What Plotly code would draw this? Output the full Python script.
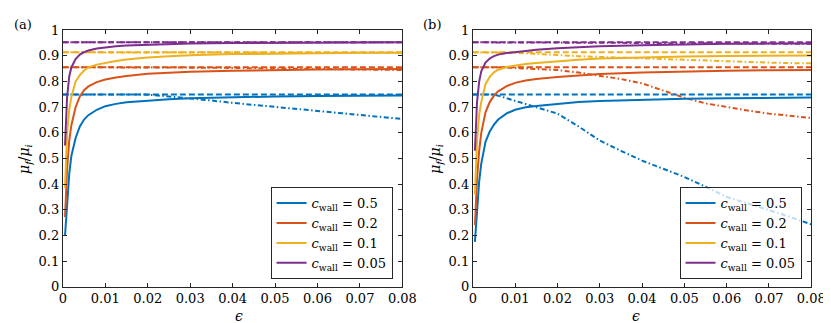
import plotly.graph_objects as go

# ---------------- data ----------------
eps = [0.0005, 0.001, 0.0015, 0.002, 0.003, 0.004, 0.005, 0.006, 0.008, 0.01,
       0.0125, 0.015, 0.02, 0.025, 0.03, 0.04, 0.05, 0.06, 0.07, 0.08]

labels = ["0.5", "0.2", "0.1", "0.05"]
colors = ["#0072BD", "#D95319", "#EDB120", "#7E2F8E"]

# panel (a) solid curves
a_solid_05 = [0.198, 0.34, 0.44, 0.51, 0.58, 0.625, 0.652, 0.669, 0.69, 0.704,
              0.713, 0.719, 0.726, 0.731, 0.735, 0.739, 0.742, 0.744, 0.745, 0.746]
a_solid_02 = [0.272, 0.46, 0.57, 0.63, 0.70, 0.742, 0.766, 0.781, 0.798, 0.808,
              0.816, 0.822, 0.830, 0.835, 0.838, 0.842, 0.845, 0.847, 0.848, 0.849]
a_solid_01 = [0.384, 0.60, 0.69, 0.74, 0.80, 0.825, 0.843, 0.855, 0.866, 0.873,
              0.880, 0.886, 0.894, 0.899, 0.903, 0.907, 0.909, 0.911, 0.912, 0.912]
a_solid_005 = [0.551, 0.74, 0.82, 0.855, 0.888, 0.905, 0.915, 0.921, 0.929, 0.934,
               0.938, 0.941, 0.944, 0.946, 0.948, 0.950, 0.951, 0.952, 0.953, 0.953]

# panel (b) solid curves
b_solid_05 = [0.175, 0.30, 0.41, 0.48, 0.565, 0.605, 0.632, 0.652, 0.676, 0.69,
              0.70, 0.705, 0.713, 0.72, 0.724, 0.729, 0.733, 0.735, 0.737, 0.738]
b_solid_02 = [0.24, 0.42, 0.53, 0.60, 0.68, 0.72, 0.745, 0.762, 0.782, 0.795,
              0.804, 0.81, 0.818, 0.824, 0.829, 0.835, 0.839, 0.842, 0.844, 0.845]
b_solid_01 = [0.36, 0.57, 0.67, 0.72, 0.79, 0.818, 0.836, 0.846, 0.857, 0.863,
              0.868, 0.872, 0.879, 0.885, 0.89, 0.895, 0.898, 0.90, 0.901, 0.902]
b_solid_005 = [0.53, 0.72, 0.80, 0.84, 0.874, 0.89, 0.899, 0.905, 0.911, 0.915,
               0.92, 0.924, 0.93, 0.935, 0.938, 0.942, 0.945, 0.947, 0.948, 0.948]

# dashed reference levels
dash_x = [0.0, 0.08]
dash_levels = [0.75, 0.856, 0.914, 0.953]

# dash-dot curves
dd_x = [0.0, 0.005, 0.01, 0.015, 0.02, 0.025, 0.03, 0.035, 0.04, 0.045,
        0.05, 0.055, 0.06, 0.065, 0.07, 0.075, 0.08]
a_dd_05 = [0.75, 0.75, 0.75, 0.75, 0.749, 0.742, 0.735, 0.726, 0.717, 0.709,
           0.701, 0.693, 0.685, 0.677, 0.669, 0.661, 0.654]
a_dd_02 = [0.856, 0.856, 0.856, 0.856, 0.856, 0.856, 0.855, 0.854, 0.853, 0.852,
           0.851, 0.850, 0.849, 0.848, 0.847, 0.846, 0.845]
a_dd_01 = [0.914, 0.914, 0.914, 0.914, 0.914, 0.914, 0.914, 0.914, 0.914, 0.913,
           0.913, 0.913, 0.913, 0.912, 0.912, 0.912, 0.912]
a_dd_005 = [0.953, 0.953, 0.953, 0.953, 0.953, 0.953, 0.953, 0.953, 0.953, 0.953,
            0.953, 0.953, 0.953, 0.953, 0.953, 0.953, 0.953]

b_dd_05 = [0.75, 0.75, 0.725, 0.70, 0.675, 0.625, 0.57, 0.53, 0.492, 0.46,
           0.428, 0.39, 0.35, 0.325, 0.30, 0.272, 0.243]
b_dd_02 = [0.856, 0.856, 0.853, 0.85, 0.845, 0.835, 0.823, 0.81, 0.793, 0.765,
           0.737, 0.715, 0.70, 0.687, 0.675, 0.666, 0.658]
b_dd_01 = [0.914, 0.914, 0.912, 0.908, 0.903, 0.899, 0.896, 0.893, 0.89, 0.887,
           0.884, 0.881, 0.878, 0.876, 0.874, 0.872, 0.871]
b_dd_005 = [0.953, 0.953, 0.953, 0.953, 0.952, 0.952, 0.951, 0.951, 0.950, 0.950,
            0.949, 0.949, 0.948, 0.948, 0.948, 0.947, 0.947]

x_ticks = [0, 0.01, 0.02, 0.03, 0.04, 0.05, 0.06, 0.07, 0.08]
x_ticktext = ["0", "0.01", "0.02", "0.03", "0.04", "0.05", "0.06", "0.07", "0.08"]
y_ticks = [0, 0.1, 0.2, 0.3, 0.4, 0.5, 0.6, 0.7, 0.8, 0.9, 1]
y_ticktext = ["0", "0.1", "0.2", "0.3", "0.4", "0.5", "0.6", "0.7", "0.8", "0.9", "1"]

# ---------------- figure ----------------
FONT = "DejaVu Serif"
LW = 2
DASH = "6px,3px"
DASHDOT = "5px,2.5px,1.5px,2.5px"
fig = go.Figure()

panels = [
    ("x", "y", "legend", [a_solid_05, a_solid_02, a_solid_01, a_solid_005],
     [a_dd_05, a_dd_02, a_dd_01, a_dd_005]),
    ("x2", "y2", "legend2", [b_solid_05, b_solid_02, b_solid_01, b_solid_005],
     [b_dd_05, b_dd_02, b_dd_01, b_dd_005]),
]

for xa, ya, leg, solids, dds in panels:
    for i in range(4):
        fig.add_trace(go.Scatter(x=dash_x, y=[dash_levels[i]] * 2, mode="lines",
                                 line=dict(color=colors[i], width=LW, dash=DASH),
                                 showlegend=False, xaxis=xa, yaxis=ya, legend=leg))
        fig.add_trace(go.Scatter(x=dd_x, y=dds[i], mode="lines",
                                 line=dict(color=colors[i], width=LW, dash=DASHDOT),
                                 showlegend=False, xaxis=xa, yaxis=ya, legend=leg))
    for i in range(4):
        fig.add_trace(go.Scatter(x=eps, y=solids[i], mode="lines",
                                 line=dict(color=colors[i], width=LW),
                                 name="<i>c</i><sub>wall</sub> = " + labels[i],
                                 showlegend=True, xaxis=xa, yaxis=ya, legend=leg))

W, H = 831, 323
axis_common = dict(showline=True, linecolor="#262626", linewidth=1, mirror="ticks",
                   ticks="inside", ticklen=4, tickcolor="#262626", showgrid=False,
                   zeroline=False, tickfont=dict(family=FONT, size=13, color="#000"))

ydom = [1 - 285 / H, 1 - 16 / H]
fig.update_layout(
    width=W, height=H,
    margin=dict(l=0, r=0, t=0, b=0),
    plot_bgcolor="white", paper_bgcolor="white",
    font=dict(family=FONT, size=13, color="#000"),
    xaxis=dict(domain=[52 / W, 399 / W], range=[0, 0.08], tickvals=x_ticks,
               ticktext=x_ticktext, anchor="y", **axis_common),
    yaxis=dict(domain=ydom, range=[0, 1], tickvals=y_ticks, ticktext=y_ticktext,
               anchor="x", **axis_common),
    xaxis2=dict(domain=[471 / W, 817 / W], range=[0, 0.08], tickvals=x_ticks,
                ticktext=x_ticktext, anchor="y2", **axis_common),
    yaxis2=dict(domain=ydom, range=[0, 1], tickvals=y_ticks, ticktext=y_ticktext,
                anchor="x2", **axis_common),
    legend=dict(x=389 / W, y=1 - 277 / H, xanchor="right", yanchor="bottom",
                bgcolor="rgba(255,255,255,0.75)", bordercolor="#262626", borderwidth=1,
                font=dict(family=FONT, size=13), itemwidth=30, tracegroupgap=0),
    legend2=dict(x=807 / W, y=1 - 277 / H, xanchor="right", yanchor="bottom",
                 bgcolor="rgba(255,255,255,0.75)", bordercolor="#262626", borderwidth=1,
                 font=dict(family=FONT, size=13), itemwidth=30, tracegroupgap=0),
    annotations=[
        dict(text="(a)", x=0, y=1, xref="paper", yref="paper", xanchor="left",
             yanchor="top", showarrow=False, font=dict(family=FONT, size=13)),
        dict(text="(b)", x=418 / W, y=1, xref="paper", yref="paper", xanchor="left",
             yanchor="top", showarrow=False, font=dict(family=FONT, size=13)),
        dict(text="<i>μ<sub>f</sub></i>/<i>μ<sub>i</sub></i>", x=25 / W, y=0.5 * (ydom[0] + ydom[1]),
             xref="paper", yref="paper", xanchor="center", yanchor="middle", xshift=-12,
             textangle=-90, showarrow=False, font=dict(family=FONT, size=14)),
        dict(text="<i>μ<sub>f</sub></i>/<i>μ<sub>i</sub></i>", x=445 / W, y=0.5 * (ydom[0] + ydom[1]),
             xref="paper", yref="paper", xanchor="center", yanchor="middle", xshift=-12,
             textangle=-90, showarrow=False, font=dict(family=FONT, size=14)),
        dict(text="<i>ϵ</i>", x=(52 + 399) / 2 / W, y=1 - 316 / H, xref="paper", yref="paper",
             yanchor="middle", showarrow=False, font=dict(family=FONT, size=14)),
        dict(text="<i>ϵ</i>", x=(471 + 817) / 2 / W, y=1 - 316 / H, xref="paper", yref="paper",
             yanchor="middle", showarrow=False, font=dict(family=FONT, size=14)),
    ],
)

fig.write_html("out.html")
